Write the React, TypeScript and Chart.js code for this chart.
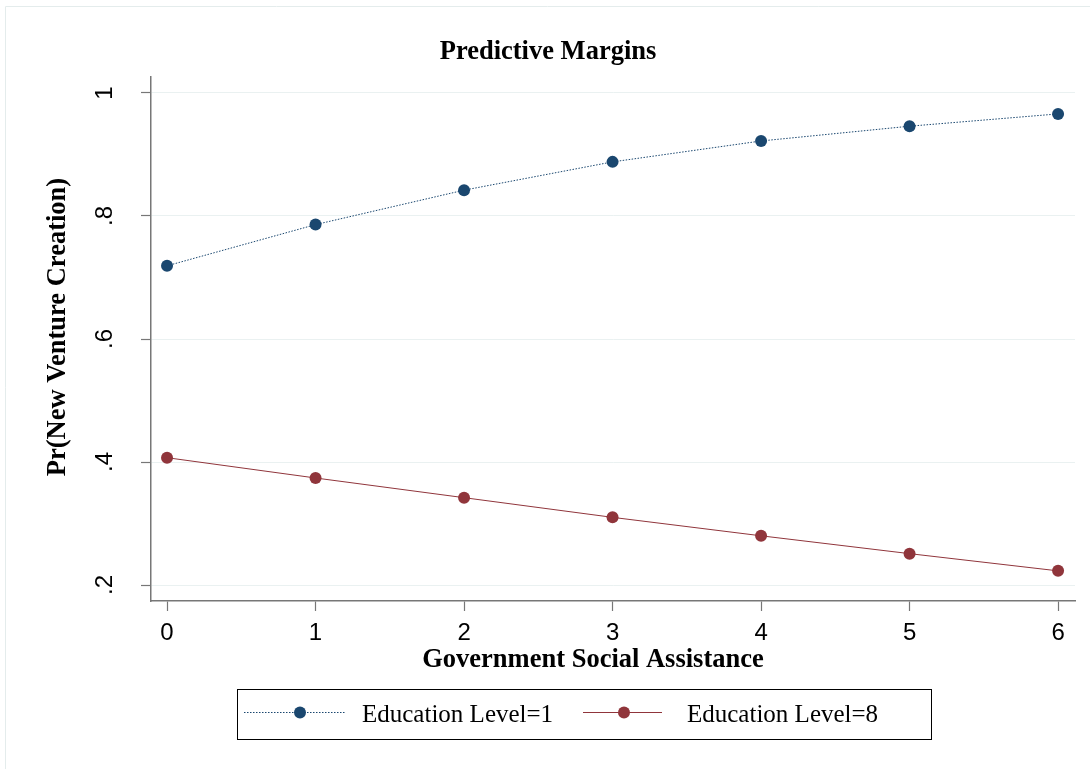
import React, { useEffect, useRef } from "react";
import { Chart, registerables } from "chart.js";

Chart.register(...registerables);

// Government social assistance levels (x axis)
const assistanceLevels = [0, 1, 2, 3, 4, 5, 6];

// Predicted probability of new venture creation
const eduLevel1 = [0.719, 0.786, 0.842, 0.888, 0.922, 0.946, 0.966];
const eduLevel8 = [0.407, 0.374, 0.342, 0.31, 0.28, 0.251, 0.223];

const seriesNames = ["Education Level=1", "Education Level=8"];

const yTicks = [0.2, 0.4, 0.6, 0.8, 1];
const yTickLabels = [".2", ".4", ".6", ".8", "1"];
const xTicks = [0, 1, 2, 3, 4, 5, 6];
const xTickLabels = ["0", "1", "2", "3", "4", "5", "6"];

const chartTitle = "Predictive Margins";
const xAxisTitle = "Government Social Assistance";
const yAxisTitle = "Pr(New Venture Creation)";

const NAVY = "#1a476f";
const MAROON = "#90353b";
const SERIF = "'Liberation Serif', 'Times New Roman', serif";
const SANS = "'Liberation Sans', Arial, sans-serif";

const decorations = {
  id: "stataDecorations",
  afterDraw(chart: any) {
    const ctx = chart.ctx as CanvasRenderingContext2D;
    const yScale = chart.scales.y;
    ctx.save();

    // outer graph frame
    ctx.strokeStyle = "#e4ecec";
    ctx.lineWidth = 1;
    ctx.beginPath();
    ctx.moveTo(5.5, 769);
    ctx.lineTo(5.5, 6.5);
    ctx.lineTo(1090, 6.5);
    ctx.stroke();

    ctx.fillStyle = "#000";
    ctx.textAlign = "center";
    ctx.textBaseline = "middle";
    ctx.font = `bold 26.5px ${SERIF}`;

    // graph title
    ctx.fillText(chartTitle, 548, 52);

    // x axis title
    ctx.fillText(xAxisTitle, 593, 660);

    // y axis title
    ctx.save();
    ctx.translate(58, (yScale.top + yScale.bottom) / 2 - 12);
    ctx.rotate(-Math.PI / 2);
    ctx.fillText(yAxisTitle, 0, 0);
    ctx.restore();

    // legend box
    const bx = 237.5, by = 689.5, bw = 694, bh = 50;
    ctx.strokeStyle = "#000";
    ctx.lineWidth = 1;
    ctx.strokeRect(bx, by, bw, bh);
    const cy = by + bh / 2 - 2;
    const items = [
      { color: NAVY, dash: [1.5, 1.5], x0: 244, x1: 345, mx: 300, tx: 362 },
      { color: MAROON, dash: [], x0: 583, x1: 662, mx: 624, tx: 687 },
    ];
    items.forEach((it, i) => {
      ctx.strokeStyle = it.color;
      ctx.lineWidth = 1;
      ctx.setLineDash(it.dash);
      ctx.beginPath();
      ctx.moveTo(it.x0, cy);
      ctx.lineTo(it.x1, cy);
      ctx.stroke();
      ctx.setLineDash([]);
      ctx.fillStyle = it.color;
      ctx.beginPath();
      ctx.arc(it.mx, cy, 6, 0, Math.PI * 2);
      ctx.fill();
      ctx.fillStyle = "#000";
      ctx.font = `25px ${SERIF}`;
      ctx.textAlign = "left";
      ctx.textBaseline = "middle";
      ctx.fillText(seriesNames[i], it.tx, cy + 3);
    });
    ctx.restore();
  },
};

export default function App() {
  const canvasRef = useRef<HTMLCanvasElement | null>(null);

  useEffect(() => {
    const canvas = canvasRef.current;
    if (!canvas) return;
    const chart = new Chart(canvas, {
      type: "line",
      data: {
        datasets: [
          {
            label: seriesNames[0],
            data: assistanceLevels.map((x, i) => ({ x, y: eduLevel1[i] })),
            borderColor: NAVY,
            backgroundColor: NAVY,
            borderWidth: 1,
            borderDash: [1.5, 1.5],
            pointRadius: 6,
            pointBorderWidth: 0,
            pointBackgroundColor: NAVY,
            tension: 0,
          },
          {
            label: seriesNames[1],
            data: assistanceLevels.map((x, i) => ({ x, y: eduLevel8[i] })),
            borderColor: MAROON,
            backgroundColor: MAROON,
            borderWidth: 1,
            pointRadius: 6,
            pointBorderWidth: 0,
            pointBackgroundColor: MAROON,
            tension: 0,
          },
        ],
      },
      options: {
        responsive: false,
        devicePixelRatio: 1,
        animation: false,
        layout: { padding: { left: 0, right: 15, top: 77, bottom: 93 } },
        plugins: {
          legend: { display: false },
          tooltip: { enabled: false },
          title: { display: false },
        },
        scales: {
          x: {
            type: "linear",
            min: -0.108,
            max: 6.114,
            afterBuildTicks: (scale: any) => {
              scale.ticks = xTicks.map((v) => ({ value: v }));
            },
            afterFit: (scale: any) => {
              scale.height = 75;
            },
            ticks: {
              color: "#000",
              font: { family: SANS, size: 24 },
              padding: 8,
              maxRotation: 0,
              minRotation: 0,
              callback: (_v: any, i: number) => xTickLabels[i],
            },
            grid: {
              drawOnChartArea: false,
              drawTicks: true,
              tickLength: 10,
              tickColor: "#777",
              tickWidth: 1.2,
            },
            border: { display: true, color: "#777", width: 1.5 },
            title: { display: false },
          },
          y: {
            type: "linear",
            min: 0.174,
            max: 1.026,
            afterBuildTicks: (scale: any) => {
              scale.ticks = yTicks.map((v) => ({ value: v }));
            },
            afterFit: (scale: any) => {
              scale.width = 151;
            },
            ticks: {
              color: "#000",
              font: { family: SANS, size: 24 },
              padding: 26,
              minRotation: 90,
              maxRotation: 90,
              crossAlign: "center",
              callback: (_v: any, i: number) => yTickLabels[i],
            },
            grid: {
              color: "#eaf1f1",
              lineWidth: 1,
              drawTicks: true,
              tickLength: 10,
              tickColor: "#777",
              tickWidth: 1.2,
            },
            border: { display: true, color: "#777", width: 1.5 },
            title: { display: false },
          },
        },
      },
      plugins: [decorations],
    } as any);
    return () => chart.destroy();
  }, []);

  return (
    <div
      style={{
        position: "absolute",
        left: 0,
        top: 0,
        width: 1090,
        height: 769,
        background: "#fff",
        overflow: "hidden",
      }}
    >
      <canvas ref={canvasRef} width={1090} height={769} style={{ display: "block" }} />
    </div>
  );
}
